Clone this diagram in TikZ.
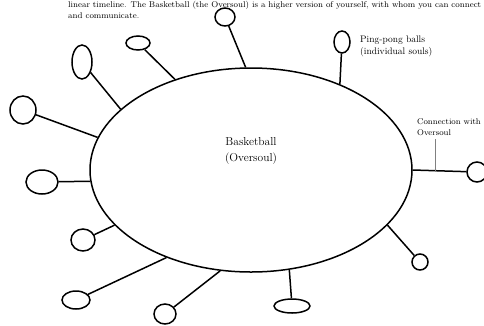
\documentclass[tikz,border=0pt]{standalone}
\usepackage{tikz}
\usetikzlibrary{shapes.geometric}

\begin{document}
\begin{tikzpicture}[x=1pt,y=-1pt]
        \tikzstyle{every node}+=[inner sep=0pt]
        \tikzstyle{ball}=[draw=black, fill=white, ellipse, line width=1.5pt]
        \tikzstyle{stick}=[black, line width=1.5pt]
        \tikzstyle{note}=[align=left, font=\fontsize{8}{11}\selectfont]
        \useasboundingbox (0,0) rectangle (484,325);
        \node [note, anchor=north west, font=\fontsize{8.4}{11}\selectfont] (intro) at (68,1) {linear timeline. The Basketball (the Oversoul) is a higher version of yourself, with whom you can connect\\and communicate.};
        \node [draw=black, line width=1.5pt, ellipse, minimum width=322pt, minimum height=204pt] (oversoul) at (251,170) {};
        \node [align=center, font=\fontsize{11.5}{16}\selectfont] (bname) at (251,151) {Basketball\\(Oversoul)};
        % ping-pong balls
        \node [ball, minimum width=20pt, minimum height=18pt] (b1) at (225,17) {};
        \node [ball, minimum width=24pt, minimum height=14pt] (b2) at (138,43) {};
        \node [ball, minimum width=20pt, minimum height=34pt] (b3) at (82,62) {};
        \node [ball, minimum width=26pt, minimum height=28pt] (b4) at (23,110) {};
        \node [ball, minimum width=32pt, minimum height=24pt] (b5) at (42,182) {};
        \node [ball, minimum width=24pt, minimum height=22pt] (b6) at (83,240) {};
        \node [ball, minimum width=28pt, minimum height=18pt] (b7) at (76,300) {};
        \node [ball, minimum width=22pt, minimum height=20pt] (b8) at (165,314) {};
        \node [ball, minimum width=36pt, minimum height=14pt] (b9) at (292,306) {};
        \node [ball, minimum width=16pt, minimum height=16pt] (b10) at (420,262) {};
        \node [ball, minimum width=20pt, minimum height=20pt] (b11) at (477,172) {};
        \node [ball, minimum width=16pt, minimum height=22pt] (b12) at (342,42) {};
        \draw [stick] (b1) -- (oversoul.93);
        \draw [stick] (b2) -- (oversoul.130);
        \draw [stick] (b3) -- (oversoul.155);
        \draw [stick] (b4) -- (oversoul.168);
        \draw [stick] (b5) -- (oversoul.184);
        \draw [stick] (b6) -- (oversoul.202);
        \draw [stick] (b7) -- (oversoul.226);
        \draw [stick] (b8) -- (oversoul.253);
        \draw [stick] (b9) -- (oversoul.291);
        \draw [stick] (b10) -- (oversoul.338);
        \draw [stick] (b11) -- (oversoul.0);
        \draw [stick] (b12) -- (oversoul.44);
        % labels
        \node [note, anchor=west, font=\fontsize{9.5}{12}\selectfont] (pingpong) at (360,46) {Ping-pong balls\\(individual souls)};
        \node [note, anchor=north west, font=\fontsize{8.3}{11}\selectfont] (conn) at (417,118) {Connection with\\Oversoul};
        \coordinate (cwire) at (435,172);
        \draw [gray, line width=0.5pt] (cwire |- conn.south) ++(0,4) -- (cwire);
\end{tikzpicture}
\end{document}
